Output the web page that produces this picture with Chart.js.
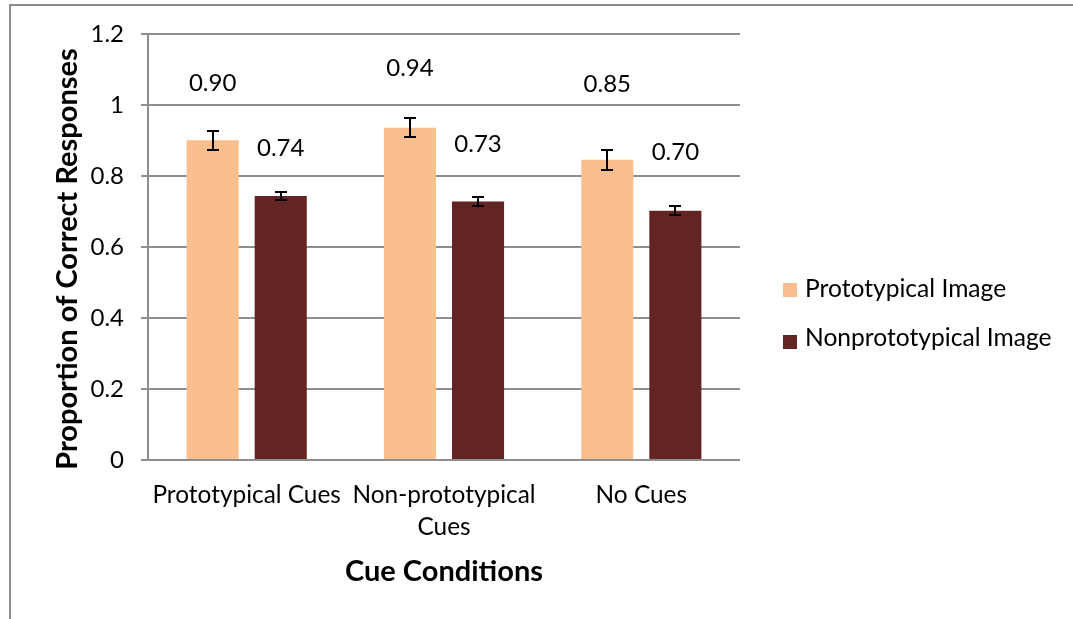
<!DOCTYPE html>
<html>
<head>
<meta charset="utf-8">
<script src="https://cdn.jsdelivr.net/npm/chart.js@4.4.1/dist/chart.umd.min.js"></script>
<style>
html,body{margin:0;padding:0;background:#fff;overflow:hidden;}
#wrap{position:absolute;left:0;top:0;width:1073px;height:619px;}
</style>
</head>
<body>
<div id="wrap"><canvas id="c" width="1073" height="619"></canvas></div>
<script>
// ---- data ----
const categories = ['Prototypical Cues', ['Non-prototypical', 'Cues'], 'No Cues'];
const seriesNames = ['Prototypical Image', 'Nonprototypical Image'];
const prototypicalValues = [0.901, 0.936, 0.846];
const nonprototypicalValues = [0.744, 0.728, 0.702];
const prototypicalErrors = [0.027, 0.027, 0.028];
const nonprototypicalErrors = [0.012, 0.013, 0.013];
const yTickLabels = ['0', '0.2', '0.4', '0.6', '0.8', '1', '1.2'];
const yAxisTitle = 'Proportion of Correct Responses';
const xAxisTitle = 'Cue Conditions';

// ---- style ----
const FONT = 'Lato, "Open Sans", sans-serif';
const colors = ['#F9BF8F', '#632523'];
const gridColor = '#8e8e8e';
const labelOffsets = [[57, 59, 75], [48, 57, 59]]; // px above bar top for value labels

const errorsBySeries = [prototypicalErrors, nonprototypicalErrors];

const framePlugin = {
  id: 'frame',
  beforeDraw(chart) {
    const ctx = chart.ctx;
    ctx.save();
    ctx.fillStyle = '#fff';
    ctx.fillRect(0, 0, chart.width, chart.height);
    ctx.strokeStyle = '#8c8c8c';
    ctx.lineWidth = 2;
    ctx.beginPath();
    ctx.moveTo(10, chart.height + 5);
    ctx.lineTo(10, 5);
    ctx.lineTo(chart.width + 5, 5);
    ctx.stroke();
    ctx.restore();
  }
};

const errorBarPlugin = {
  id: 'errorBars',
  afterDatasetsDraw(chart) {
    const ctx = chart.ctx;
    const y = chart.scales.y;
    ctx.save();
    ctx.strokeStyle = '#000';
    ctx.lineWidth = 2;
    chart.data.datasets.forEach((ds, di) => {
      const meta = chart.getDatasetMeta(di);
      meta.data.forEach((bar, i) => {
        const v = ds.data[i];
        const e = errorsBySeries[di][i];
        const top = Math.round(y.getPixelForValue(v + e));
        const bot = Math.round(y.getPixelForValue(v - e));
        const x = Math.round(bar.x);
        ctx.beginPath();
        ctx.moveTo(x, top); ctx.lineTo(x, bot);
        ctx.moveTo(x - 6, top); ctx.lineTo(x + 6, top);
        ctx.moveTo(x - 6, bot); ctx.lineTo(x + 6, bot);
        ctx.stroke();
      });
    });
    ctx.restore();
  }
};

const valueLabelPlugin = {
  id: 'valueLabels',
  afterDatasetsDraw(chart) {
    const ctx = chart.ctx;
    ctx.save();
    ctx.fillStyle = '#000';
    ctx.font = '24px ' + FONT;
    ctx.textAlign = 'center';
    ctx.textBaseline = 'middle';
    chart.data.datasets.forEach((ds, di) => {
      const meta = chart.getDatasetMeta(di);
      meta.data.forEach((bar, i) => {
        ctx.fillText(ds.data[i].toFixed(2), bar.x, bar.y - labelOffsets[di][i]);
      });
    });
    ctx.restore();
  }
};

const yTitlePlugin = {
  id: 'yTitle',
  afterDraw(chart) {
    const ctx = chart.ctx;
    ctx.save();
    ctx.translate(68, 259);
    ctx.rotate(-Math.PI / 2);
    ctx.font = 'bold 29px ' + FONT;
    ctx.fillStyle = '#000';
    ctx.textAlign = 'center';
    ctx.textBaseline = 'middle';
    ctx.fillText(yAxisTitle, 0, 0);
    ctx.restore();
  }
};

const legendPlugin = {
  id: 'customLegend',
  afterDraw(chart) {
    const ctx = chart.ctx;
    ctx.save();
    ctx.font = '24.6px ' + FONT;
    ctx.textAlign = 'left';
    ctx.textBaseline = 'middle';
    const rows = [{sq: 290, tx: 289}, {sq: 342, tx: 338}];
    chart.data.datasets.forEach((ds, di) => {
      ctx.fillStyle = ds.backgroundColor;
      ctx.fillRect(783, rows[di].sq - 7, 14, 14);
      ctx.fillStyle = '#000';
      ctx.fillText(ds.label, 805, rows[di].tx);
    });
    ctx.restore();
  }
};

new Chart(document.getElementById('c'), {
  type: 'bar',
  data: {
    labels: categories,
    datasets: [
      {label: seriesNames[0], data: prototypicalValues, backgroundColor: colors[0]},
      {label: seriesNames[1], data: nonprototypicalValues, backgroundColor: colors[1]}
    ]
  },
  options: {
    responsive: false,
    animation: false,
    devicePixelRatio: 1,
    categoryPercentage: 0.69,
    barPercentage: 0.765,
    layout: {padding: {left: 0, top: 34, right: 333, bottom: 0}},
    plugins: {legend: {display: false}, tooltip: {enabled: false}},
    scales: {
      x: {
        grid: {display: false, drawTicks: false},
        border: {display: false},
        ticks: {color: '#000', font: {family: FONT, size: 24.4, lineHeight: 1.31}, padding: 19, maxRotation: 0, autoSkip: false},
        title: {display: true, text: xAxisTitle, color: '#000', font: {family: FONT, size: 29, weight: 'bold'}, padding: {top: 0, bottom: 30}},
        afterFit(scale) { scale.height = 159; }
      },
      y: {
        min: 0, max: 1.2,
        ticks: {
          stepSize: 0.2, color: '#000', font: {family: FONT, size: 24}, padding: 17,
          callback: (v) => yTickLabels[Math.round(v / 0.2)]
        },
        grid: {color: gridColor, lineWidth: 2, tickLength: 7, drawTicks: true},
        border: {color: gridColor, width: 2},
        title: {display: false},
        afterFit(scale) { scale.width = 148; }
      }
    }
  },
  plugins: [framePlugin, errorBarPlugin, valueLabelPlugin, yTitlePlugin, legendPlugin]
});
</script>
</body>
</html>
